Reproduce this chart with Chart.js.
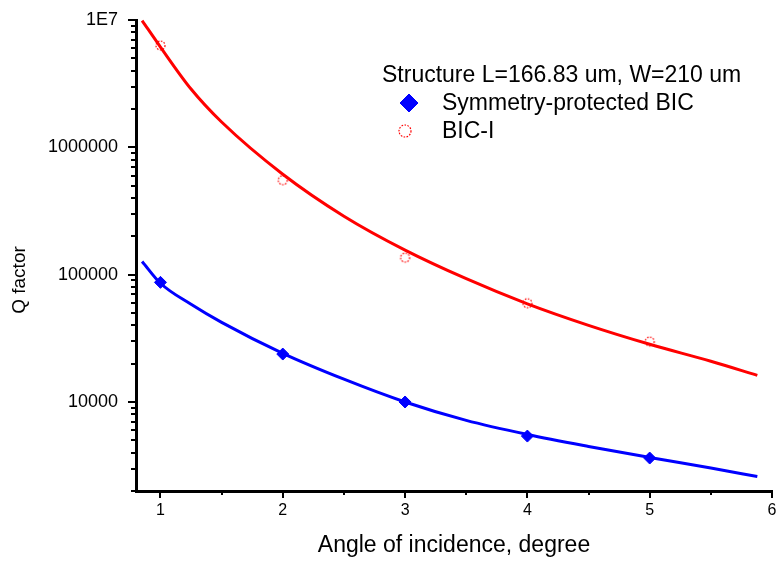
<!DOCTYPE html>
<html>
<head>
<meta charset="utf-8">
<title>Q factor vs angle</title>
<script src="https://cdn.jsdelivr.net/npm/chart.js@4/dist/chart.umd.min.js"></script>
<style>
    body { margin: 0; background: #fff; }
    canvas { display: block; }
</style>
</head>
<body>
<canvas id="qChart" width="779" height="563"></canvas>
<script>
// measured points (angle in degree)
const angles = [1, 2, 3, 4, 5];
const qSymmetry = [87000, 23800, 10000, 5400, 3630];
const qBic = [6300000, 552000, 136000, 59700, 29800];

// fitted curves
const fitX = [0.85, 1.0, 1.25, 1.5, 2.0, 2.5, 3.0, 3.5, 4.0, 4.5, 5.0, 5.5, 5.88];
const fitSymQ = [127000, 85600, 58500, 42200, 24100, 15100, 10000, 7170, 5560, 4480, 3670, 3030, 2600];
const fitBicQ = [9900000, 6130000, 2870000, 1580000, 615000, 288000, 156000, 93000, 59000, 40000, 28400, 20900, 16200];

// axis ticks
const xTicks = [1, 2, 3, 4, 5, 6];
const xMinorTicks = [1.5, 2.5, 3.5, 4.5, 5.5];
const yTicks = [10000, 100000, 1000000, 10000000];
const yTickLabels = ['10000', '100000', '1000000', '1E7'];
const yMinorTicks = [2000, 3000, 4000, 5000, 6000, 7000, 8000, 9000,
    20000, 30000, 40000, 50000, 60000, 70000, 80000, 90000,
    200000, 300000, 400000, 500000, 600000, 700000, 800000, 900000,
    2000000, 3000000, 4000000, 5000000, 6000000, 7000000, 8000000, 9000000];

const legendTitle = 'Structure L=166.83 um, W=210 um';
const seriesNames = ['Symmetry-protected BIC', 'BIC-I'];
const yTitle = 'Q factor';
const xTitle = 'Angle of incidence, degree';

const FONT = 'Liberation Sans, Arial, sans-serif';

// dotted open circle used for the BIC-I points
function dottedCircle(r) {
    const c = document.createElement('canvas');
    const s = Math.ceil(r * 2 + 4);
    c.width = s; c.height = s;
    const g = c.getContext('2d');
    g.strokeStyle = '#ff0000';
    g.lineWidth = 1.2;
    g.setLineDash([1.6, 1.4]);
    g.beginPath();
    g.arc(s / 2, s / 2, r, 0, Math.PI * 2);
    g.stroke();
    return c;
}
const circleSmall = dottedCircle(4.5);
const circleBig = dottedCircle(6);

const toXY = (xs, ys) => xs.map((x, i) => ({ x: x, y: ys[i] }));

// minor ticks on both axes + the y title (sits a bit below the middle)
const axisExtras = {
    id: 'axisExtras',
    afterDraw(chart) {
        const ctx = chart.ctx;
        const xs = chart.scales.x, ys = chart.scales.y;
        const area = chart.chartArea;
        ctx.save();
        ctx.strokeStyle = '#000';
        ctx.lineWidth = 2;
        yMinorTicks.forEach(v => {
            const py = Math.round(ys.getPixelForValue(v));
            ctx.beginPath();
            ctx.moveTo(area.left - 5, py);
            ctx.lineTo(area.left, py);
            ctx.stroke();
        });
        xMinorTicks.forEach(v => {
            const px = Math.round(xs.getPixelForValue(v));
            ctx.beginPath();
            ctx.moveTo(px, area.bottom);
            ctx.lineTo(px, area.bottom + 4);
            ctx.stroke();
        });
        ctx.translate(20, 280);
        ctx.rotate(-Math.PI / 2);
        ctx.fillStyle = '#000';
        ctx.font = '19px ' + FONT;
        ctx.textAlign = 'center';
        ctx.textBaseline = 'middle';
        ctx.fillText(yTitle, 0, 0);
        ctx.restore();
    }
};

// legend box inside the plot
const insideLegend = {
    id: 'insideLegend',
    afterDraw(chart) {
        const ctx = chart.ctx;
        ctx.save();
        ctx.fillStyle = '#000';
        ctx.font = '23px ' + FONT;
        ctx.textBaseline = 'alphabetic';
        ctx.fillText(legendTitle, 382, 82);
        ctx.fillText(seriesNames[0], 442, 110);
        ctx.fillText(seriesNames[1], 442, 138);
        ctx.fillStyle = '#0000ff';
        ctx.strokeStyle = '#0000ff';
        Chart.helpers.drawPoint(ctx, { pointStyle: 'rectRot', radius: 9, rotation: 0, borderWidth: 1 }, 409, 103);
        ctx.drawImage(circleBig, 405 - circleBig.width / 2, 131 - circleBig.height / 2);
        ctx.restore();
    }
};

new Chart(document.getElementById('qChart'), {
    type: 'scatter',
    data: {
        datasets: [
            { label: 'fit sym', data: toXY(fitX, fitSymQ), showLine: true, borderColor: '#0000ff', borderWidth: 3, pointRadius: 0, cubicInterpolationMode: 'monotone', clip: false },
            { label: 'fit bic', data: toXY(fitX, fitBicQ), showLine: true, borderColor: '#ff0000', borderWidth: 3, pointRadius: 0, cubicInterpolationMode: 'monotone', clip: false },
            { label: seriesNames[0], data: toXY(angles, qSymmetry), showLine: false, pointStyle: 'rectRot', pointRadius: 6, backgroundColor: '#0000ff', borderColor: '#0000ff', borderWidth: 1 },
            { label: seriesNames[1], data: toXY(angles, qBic), showLine: false, pointStyle: circleSmall, pointRadius: 5 }
        ]
    },
    options: {
        responsive: false,
        animation: false,
        layout: { padding: { top: 20, right: 3, bottom: 0, left: 0 } },
        plugins: { legend: { display: false }, tooltip: { enabled: false } },
        scales: {
            x: {
                type: 'linear',
                min: 0.8,
                max: 6,
                afterBuildTicks: s => { s.ticks = xTicks.map(v => ({ value: v })); },
                afterFit: s => { s.height = 72; s.paddingLeft = 0; s.paddingRight = 0; },
                border: { display: true, color: '#000', width: 3 },
                grid: { drawOnChartArea: false, drawTicks: true, tickLength: 7, color: '#000', lineWidth: 2 },
                ticks: { color: '#000', padding: 3, font: { family: FONT, size: 16 } },
                title: { display: true, text: xTitle, color: '#000', font: { family: FONT, size: 23 }, padding: { top: 4, bottom: 4 } }
            },
            y: {
                type: 'logarithmic',
                min: 2000,
                max: 10000000,
                afterBuildTicks: s => { s.ticks = yTicks.map(v => ({ value: v })); },
                afterFit: s => { s.width = 136; s.paddingTop = 0; s.paddingBottom = 0; },
                border: { display: true, color: '#000', width: 3 },
                grid: { drawOnChartArea: false, drawTicks: true, tickLength: 8, color: '#000', lineWidth: 2 },
                ticks: {
                    color: '#000',
                    padding: 10,
                    font: { family: FONT, size: 18 },
                    callback: v => yTickLabels[yTicks.indexOf(v)]
                }
            }
        }
    },
    plugins: [axisExtras, insideLegend]
});
</script>
</body>
</html>
